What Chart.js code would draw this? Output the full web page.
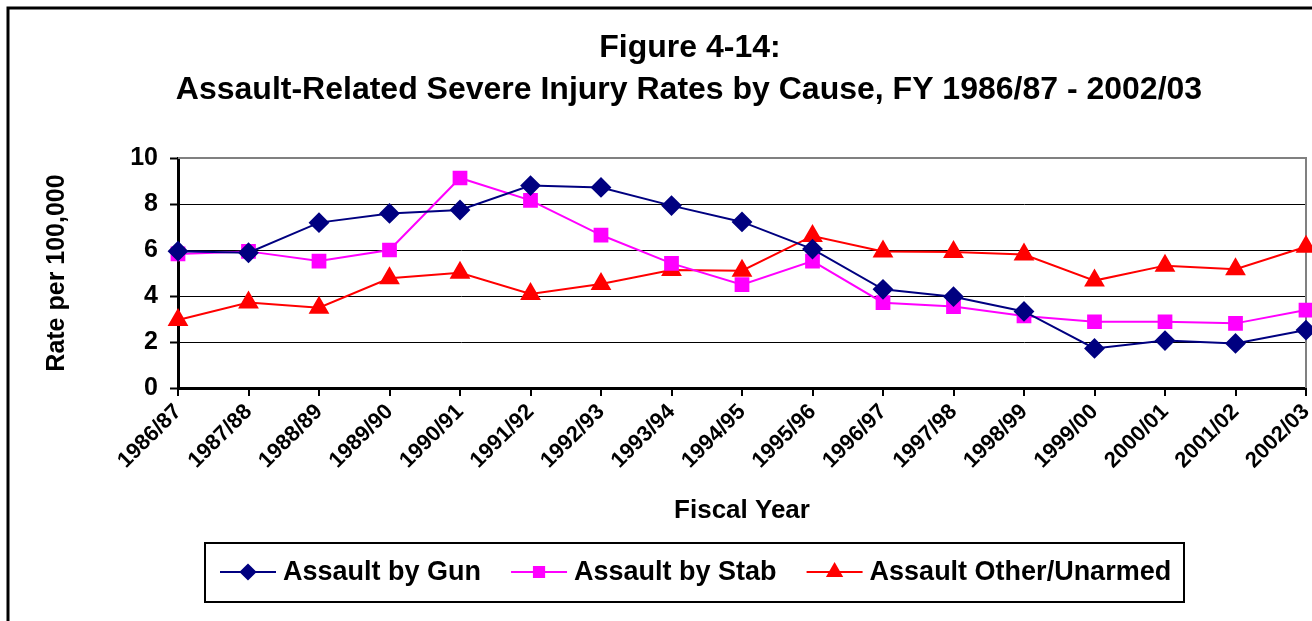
<!DOCTYPE html>
<html>
<head>
<meta charset="utf-8">
<script src="https://cdn.jsdelivr.net/npm/chart.js@4.4.1/dist/chart.umd.min.js"></script>
<style>
  html, body { margin: 0; padding: 0; background: #fff; overflow: hidden; }
</style>
</head>
<body>
<canvas id="grafico" width="1312" height="621"></canvas>
<script>
// fiscal years
var years = ["1986/87", "1987/88", "1988/89", "1989/90", "1990/91", "1991/92", "1992/93", "1993/94", "1994/95",
             "1995/96", "1996/97", "1997/98", "1998/99", "1999/00", "2000/01", "2001/02", "2002/03"];
// rate per 100,000
var gun   = [5.95, 5.88, 7.19, 7.59, 7.74, 8.80, 8.72, 7.93, 7.22, 6.04, 4.29, 3.97, 3.33, 1.72, 2.06, 1.94, 2.52];
var stab  = [5.83, 5.94, 5.52, 6.00, 9.13, 8.16, 6.65, 5.42, 4.49, 5.52, 3.71, 3.54, 3.13, 2.88, 2.88, 2.81, 3.39];
var other = [2.96, 3.72, 3.49, 4.77, 5.01, 4.09, 4.52, 5.13, 5.10, 6.61, 5.94, 5.91, 5.80, 4.67, 5.32, 5.16, 6.14];
var seriesNames = ["Assault by Gun", "Assault by Stab", "Assault Other/Unarmed"];
var yTicks = [0, 2, 4, 6, 8, 10];

var fuente = '"Liberation Sans", Arial, Helvetica, sans-serif';
Chart.defaults.font.family = fuente;
Chart.defaults.color = "#000";

// frame, title, plot border and legend drawn by hand (Excel look)
var extras = {
    id: "extras",
    beforeDatasetsDraw: function (chart) {
        var ctx = chart.ctx, a = chart.chartArea;
        ctx.save();
        ctx.strokeStyle = "#808080";
        ctx.lineWidth = 2;
        ctx.beginPath();
        ctx.moveTo(a.left, a.top);
        ctx.lineTo(a.right, a.top);
        ctx.lineTo(a.right, a.bottom);
        ctx.stroke();
        ctx.restore();
    },
    afterDraw: function (chart) {
        var ctx = chart.ctx;
        ctx.save();
        // outer frame (right / bottom edges lie outside the picture)
        ctx.strokeStyle = "#000";
        ctx.lineWidth = 3;
        ctx.beginPath();
        ctx.moveTo(8, chart.height + 5);
        ctx.lineTo(8, 8);
        ctx.lineTo(chart.width + 5, 8);
        ctx.stroke();

        // title
        ctx.fillStyle = "#000";
        ctx.textAlign = "center";
        ctx.textBaseline = "middle";
        ctx.font = "bold 32px " + fuente;
        ctx.fillText("Figure 4-14:", 690, 48);
        ctx.fillText("Assault-Related Severe Injury Rates by Cause, FY 1986/87 - 2002/03", 689, 90);

        // legend
        ctx.lineWidth = 2;
        ctx.strokeRect(205, 543, 979, 59);
        ctx.font = "bold 27px " + fuente;
        ctx.textAlign = "left";
        var x = 220, y = 572;
        chart.data.datasets.forEach(function (ds) {
            ctx.strokeStyle = ds.borderColor;
            ctx.lineWidth = 2;
            ctx.beginPath();
            ctx.moveTo(x, y);
            ctx.lineTo(x + 56, y);
            ctx.stroke();
            Chart.helpers.drawPoint(ctx, {
                pointStyle: ds.pointStyle,
                radius: ds.pointRadius * 0.8,
                borderWidth: 1
            }, x + 28, y);
            ctx.fillStyle = ds.pointBackgroundColor;
            ctx.strokeStyle = ds.pointBorderColor;
            ctx.fill();
            ctx.fillStyle = "#000";
            ctx.fillText(ds.label, x + 63, y + 1);
            x += 63 + ctx.measureText(ds.label).width + 30;
        });
        ctx.restore();
    }
};

function serie(label, data, color, style, radius) {
    return {
        label: label,
        data: data,
        borderColor: color,
        backgroundColor: color,
        pointBackgroundColor: color,
        pointBorderColor: color,
        pointStyle: style,
        pointRadius: radius,
        pointHoverRadius: radius,
        borderWidth: 2,
        tension: 0,
        clip: false
    };
}

new Chart(document.getElementById("grafico"), {
    type: "line",
    data: {
        labels: years,
        datasets: [
            serie(seriesNames[0], gun, "#000080", "rectRot", 9),
            serie(seriesNames[1], stab, "#FF00FF", "rect", 9),
            serie(seriesNames[2], other, "#FF0000", "triangle", 10)
        ]
    },
    plugins: [extras],
    options: {
        responsive: false,
        animation: false,
        events: [],
        layout: { autoPadding: false, padding: { top: 158, right: 6, bottom: 93, left: 0 } },
        plugins: {
            legend: { display: false },
            title: { display: false },
            tooltip: { enabled: false }
        },
        scales: {
            x: {
                offset: false,
                grid: {
                    drawOnChartArea: false,
                    drawTicks: true,
                    tickLength: 8,
                    color: "#000",
                    lineWidth: 2
                },
                border: { display: true, color: "#000", width: 3 },
                ticks: {
                    autoSkip: false,
                    minRotation: 45,
                    maxRotation: 45,
                    padding: 3,
                    font: { size: 22, weight: "bold" }
                },
                title: {
                    display: true,
                    text: "Fiscal Year",
                    font: { size: 26, weight: "bold" },
                    padding: { top: 0, bottom: 2 }
                },
                afterFit: function (s) {
                    s.height = 140;
                    s.paddingLeft = 0;
                    s.paddingRight = 0;
                }
            },
            y: {
                min: 0,
                max: 10,
                afterBuildTicks: function (s) {
                    s.ticks = yTicks.map(function (v) { return { value: v }; });
                },
                grid: {
                    color: "#000",
                    lineWidth: 1,
                    tickLength: 8,
                    tickWidth: 2
                },
                border: { display: true, color: "#000", width: 3 },
                ticks: {
                    padding: 12,
                    font: { size: 25, weight: "bold" }
                },
                title: {
                    display: true,
                    text: "Rate per 100,000",
                    font: { size: 25, weight: "bold" },
                    padding: { top: 42, bottom: 0 }
                },
                afterFit: function (s) {
                    s.width = 178;
                    s.paddingTop = 0;
                    s.paddingBottom = 0;
                }
            }
        }
    }
});
</script>
</body>
</html>
